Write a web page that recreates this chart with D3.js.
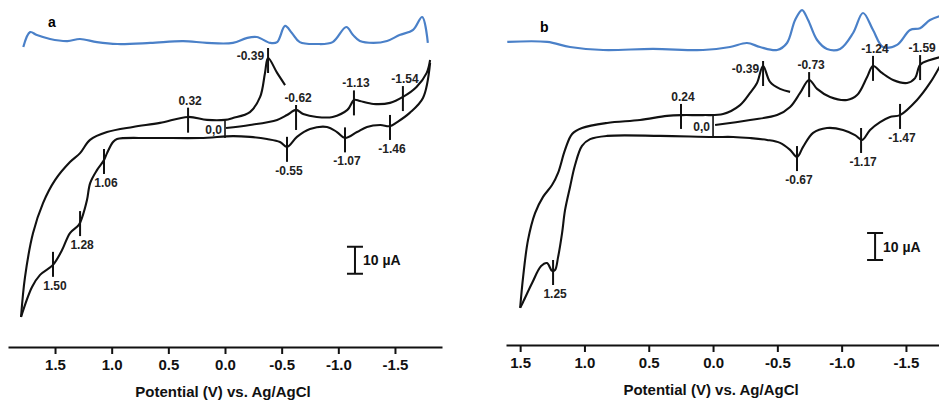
<!DOCTYPE html>
<html>
<head>
<meta charset="utf-8">
<script src="https://cdnjs.cloudflare.com/ajax/libs/d3/7.8.5/d3.min.js"></script>
<style>
  body { margin: 0; background: #fff; }
  svg { display: block; }
  text { font-family: "Liberation Sans", Arial, Helvetica, sans-serif; }
</style>
</head>
<body>
<div class="canvas"></div>
<script>
// potential (V vs Ag/AgCl), current (uA)
const aOuter = [[1.80,-70.0],[1.765,-55.2],[1.694,-38.9],[1.606,-27.8],[1.50,-19.3],[1.368,-12.6],[1.279,-9.3],
  [1.191,-4.4],[1.041,-1.5],[0.812,0.4],[0.574,1.9],[0.326,4.1],[0.159,3.0],[0.0,3.0],[-0.07,3.7],[-0.22,5.9],
  [-0.31,11.5],[-0.353,20.4],[-0.38,25.9],[-0.46,20.4],[-0.53,15.9]];
const aForward = [[-0.009,0],[-0.22,1.1],[-0.46,3.0],[-0.547,4.8],[-0.627,6.7],[-0.69,5.2],[-0.81,4.1],[-0.95,4.1],
  [-1.08,6.7],[-1.14,10.4],[-1.19,10.0],[-1.31,8.9],[-1.456,9.3],[-1.57,11.5],[-1.69,15.2],[-1.78,20.4],[-1.81,25.2]];
const aReturn = [[-1.81,24.1],[-1.747,11.1],[-1.63,5.6],[-1.52,2.2],[-1.456,0.7],[-1.37,1.1],[-1.253,0.4],[-1.165,-1.5],
  [-1.059,-3.7],[-0.988,-1.5],[-0.90,0.4],[-0.75,-0.4],[-0.635,-3.3],[-0.547,-7.0],[-0.485,-5.2],[-0.37,-4.1],
  [-0.22,-3.3],[-0.07,-3.0],[0.22,-3.7],[0.66,-3.7],[0.953,-4.1],[0.988,-5.2],[1.041,-9.3],[1.068,-11.9],[1.13,-15.6],
  [1.19,-20.4],[1.218,-26.7],[1.26,-33.0],[1.29,-35.9],[1.368,-38.9],[1.438,-45.2],[1.518,-50.7],[1.632,-54.4],
  [1.703,-58.9],[1.80,-70.0]];
const aDpv = [[1.78,-1.1],[1.72,4.4],[1.66,3.3],[1.544,1.85],[1.39,1.1],[1.28,1.85],[1.13,0.7],[0.95,0],[0.66,0.4],
  [0.37,1.1],[0.16,0.4],[-0.07,0.4],[-0.19,2.2],[-0.28,2.6],[-0.40,0.4],[-0.46,0.7],[-0.53,6.7],[-0.59,4.1],
  [-0.66,0.7],[-0.81,0],[-0.95,0.7],[-1.07,6.3],[-1.13,3.3],[-1.19,1.1],[-1.31,0.4],[-1.43,1.1],[-1.54,3.3],
  [-1.66,5.2],[-1.74,10],[-1.79,0.4]];

const bOuter = [[1.50,-68.1],[1.477,-56.7],[1.439,-43.0],[1.384,-33.0],[1.322,-27.0],[1.252,-22.6],[1.205,-18.1],
  [1.151,-9.6],[1.096,-3.7],[1.019,-1.5],[0.824,0.4],[0.568,1.5],[0.358,3.0],[0.241,3.3],[0.078,3.3],[-0.078,3.7],
  [-0.21,7.0],[-0.288,11.5],[-0.342,15.2],[-0.389,21.5],[-0.443,15.6],[-0.521,13.0],[-0.599,11.9]];
const bForward = [[-0.016,-0.4],[-0.288,1.5],[-0.498,3.3],[-0.599,6.3],[-0.677,11.5],[-0.747,16.3],[-0.809,13.0],
  [-0.91,10.0],[-1.042,8.9],[-1.12,10.7],[-1.198,17.4],[-1.244,21.5],[-1.314,18.9],[-1.40,16.3],[-1.509,15.2],
  [-1.571,17.0],[-1.61,21.9],[-1.687,23.7],[-1.765,24.8]];
const bReturn = [[-1.765,21.5],[-1.687,15.2],[-1.586,8.9],[-1.454,3.3],[-1.376,2.6],[-1.299,0.7],[-1.221,-2.2],
  [-1.159,-5.9],[-1.104,-4.1],[-1.011,-2.2],[-0.886,-1.5],[-0.778,-3.3],[-0.70,-8.5],[-0.653,-12.2],[-0.599,-9.6],
  [-0.521,-7.0],[-0.42,-5.9],[-0.288,-5.2],[-0.156,-4.8],[0.0,-4.8],[0.412,-4.4],[0.824,-4.4],[0.956,-5.6],
  [1.019,-8.1],[1.073,-15.2],[1.112,-23.3],[1.151,-31.9],[1.174,-40.4],[1.205,-49.3],[1.229,-54.1],[1.252,-54.4],
  [1.291,-51.5],[1.337,-52.6],[1.407,-58.9],[1.477,-65.9],[1.50,-68.1]];
const bDpv = [[1.60,3.0],[1.29,3.0],[1.112,1.1],[0.855,0],[0.467,0.4],[0.078,0],[-0.132,1.1],[-0.264,2.6],
  [-0.365,1.1],[-0.498,0],[-0.575,2.6],[-0.638,11.1],[-0.692,14.8],[-0.739,11.1],[-0.809,3.7],[-0.886,0.4],
  [-0.988,0.4],[-1.089,6.3],[-1.166,13.7],[-1.244,7.4],[-1.322,1.1],[-1.431,1.9],[-1.532,7.4],[-1.61,8.1],
  [-1.687,11.1],[-1.765,12.6]];

// peak labels: text, potential, current at tick centre, side of label
const aPeaks = [["0.32",0.326,2.9,"up"],["-0.39",-0.38,25.0,"left"],["-0.62",-0.627,3.9,"up"],["-1.13",-1.138,9.3,"up"],
  ["-1.54",-1.57,10.9,"up"],["-0.55",-0.547,-7.9,"down"],["-1.07",-1.059,-4.4,"down"],["-1.46",-1.456,0.2,"down"],
  ["1.06",1.068,-12.4,"down"],["1.28",1.279,-35.4,"down"],["1.50",1.518,-50.5,"down"]];
const bPeaks = [["0.24",0.249,2.8,"up"],["-0.39",-0.389,18.7,"left"],["-0.73",-0.747,14.6,"up"],["-1.24",-1.244,20.6,"up"],
  ["-1.59",-1.61,20.9,"up"],["-0.67",-0.653,-12.8,"down"],["-1.17",-1.151,-6.1,"down"],["-1.47",-1.454,2.8,"down"],
  ["1.25",1.244,-55.0,"down"]];

const tickVals = [1.5, 1.0, 0.5, 0.0, -0.5, -1.0, -1.5];
const scaleBar = 10; // uA

const panels = [
  { letter: 'a', outer: aOuter, fwd: aForward, ret: aReturn, dpv: aDpv, peaks: aPeaks,
    x: d3.scaleLinear().domain([1.915, -1.915]).range([8, 442]),
    y: d3.scaleLinear().domain([-70, 30]).range([317, 47]),
    yd: d3.scaleLinear().domain([0, 10]).range([44, 17]),
    axisY: 347, letterPos: [48, 27], start: [0.0, 2.6, -3.7], bar: [-1.147, -54] },
  { letter: 'b', outer: bOuter, fwd: bForward, ret: bReturn, dpv: bDpv, peaks: bPeaks,
    x: d3.scaleLinear().domain([1.61, -1.757]).range([506, 939]),
    y: d3.scaleLinear().domain([-70, 30]).range([313, 43]),
    yd: d3.scaleLinear().domain([0, 10]).range([50, 23]),
    axisY: 345, letterPos: [540, 32], start: [0.0, 3.0, -4.8], bar: [-1.26, -50.4] }
];

const svg = d3.select('.canvas')
  .append('svg')
  .attr('width', 939)
  .attr('height', 401);

panels.forEach(p => {
  const g = svg.append('g');
  const line = d3.line()
    .x(d => p.x(d[0]))
    .y(d => p.y(d[1]))
    .curve(d3.curveCatmullRom.alpha(0.5));

  [p.outer, p.fwd, p.ret].forEach(branch => {
    g.append('path')
      .attr('d', line(branch))
      .attr('fill', 'none')
      .attr('stroke', '#111')
      .attr('stroke-width', 2.1);
  });

  g.append('path')
    .attr('d', d3.line().x(d => p.x(d[0])).y(d => p.yd(d[1])).curve(d3.curveCatmullRom.alpha(0.5))(p.dpv))
    .attr('fill', 'none')
    .attr('stroke', '#4a80c8')
    .attr('stroke-width', 2.2);

  // start point box side + label
  g.append('line')
    .attr('x1', p.x(p.start[0])).attr('x2', p.x(p.start[0]))
    .attr('y1', p.y(p.start[1])).attr('y2', p.y(p.start[2]))
    .attr('stroke', '#111').attr('stroke-width', 1.6);
  g.append('text')
    .attr('x', p.x(p.start[0]) - 3)
    .attr('y', (p.y(p.start[1]) + p.y(p.start[2])) / 2 + 4.5)
    .attr('text-anchor', 'end')
    .attr('font-size', 12)
    .attr('font-weight', 'bold')
    .attr('fill', '#222')
    .text('0,0');

  // peak ticks
  const half = 12.5;
  const pk = g.selectAll('.peak')
    .data(p.peaks)
    .enter()
    .append('g')
    .attr('class', 'peak')
    .attr('transform', d => `translate(${p.x(d[1])}, ${p.y(d[2])})`);

  pk.append('line')
    .attr('y1', -half).attr('y2', half)
    .attr('stroke', '#111')
    .attr('stroke-width', 2);

  pk.append('text')
    .attr('font-size', 12)
    .attr('font-weight', 'bold')
    .attr('fill', '#222')
    .attr('text-anchor', d => d[3] == 'left' ? 'end' : 'middle')
    .attr('x', d => d[3] == 'left' ? -4 : 2)
    .attr('y', d => d[3] == 'up' ? -half - 3 : d[3] == 'down' ? half + 13 : -half + 12)
    .text(d => d[0]);

  // 10 uA scale bar
  const bx = p.x(p.bar[0]);
  const by0 = p.y(p.bar[1]), by1 = p.y(p.bar[1] + scaleBar);
  g.append('path')
    .attr('d', `M${bx - 8},${by0}H${bx + 8}M${bx},${by0}V${by1}M${bx - 8},${by1}H${bx + 8}`)
    .attr('stroke', '#111').attr('stroke-width', 2).attr('fill', 'none');
  g.append('text')
    .attr('x', bx + 8)
    .attr('y', (by0 + by1) / 2 + 5)
    .attr('font-size', 14)
    .attr('font-weight', 'bold')
    .attr('fill', '#111')
    .text('10 µA');

  g.append('text')
    .attr('x', p.letterPos[0]).attr('y', p.letterPos[1])
    .attr('font-size', 14)
    .attr('font-weight', 'bold')
    .text(p.letter);

  // x axis
  const axis = g.append('g')
    .attr('transform', `translate(0, ${p.axisY})`)
    .call(d3.axisBottom(p.x)
      .tickValues(tickVals)
      .tickSize(7)
      .tickSizeOuter(0)
      .tickPadding(5)
      .tickFormat(d => d.toFixed(1)));
  axis.select('.domain').attr('stroke', '#111').attr('stroke-width', 2);
  axis.selectAll('.tick line').attr('stroke', '#111').attr('stroke-width', 2);
  axis.selectAll('.tick text')
    .attr('font-size', 15)
    .attr('font-weight', 'bold')
    .attr('font-family', '"Liberation Sans", Arial, sans-serif')
    .attr('fill', '#111');

  g.append('text')
    .attr('x', p.x(0) - 2)
    .attr('y', p.axisY + 50)
    .attr('text-anchor', 'middle')
    .attr('font-size', 15)
    .attr('font-weight', 'bold')
    .attr('fill', '#111')
    .text('Potential (V) vs. Ag/AgCl');
});
</script>
</body>
</html>
